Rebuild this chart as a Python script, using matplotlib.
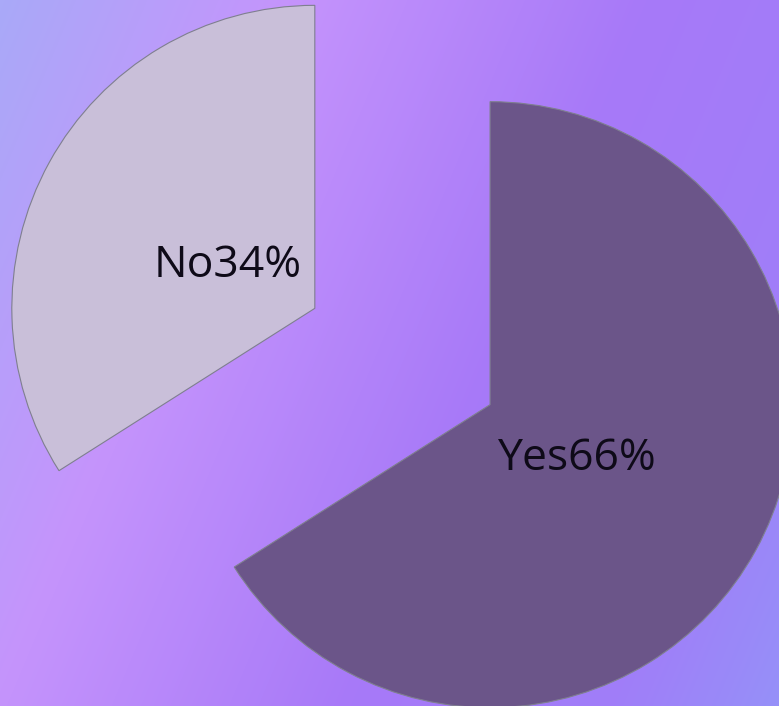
import numpy as np
import matplotlib
matplotlib.use("Agg")
import matplotlib.pyplot as plt
from matplotlib.colors import LinearSegmentedColormap

labels = ["Yes", "No"]
values = [66, 34]
colors = ["#6B5589", "#C9BFD9"]

W, H = 779, 706
fig = plt.figure(figsize=(W / 100, H / 100), dpi=100)

# background gradient (diagonal, office style)
bg = fig.add_axes([0, 0, 1, 1])
bg.set_axis_off()
yy, xx = np.mgrid[0:H, 0:W]
t = (620 * xx + 260 * yy) / (620 * W + 260 * H)
cmap = LinearSegmentedColormap.from_list(
    "bg", [(0.0, "#A9A9F8"), (0.27, "#C594FC"), (0.6, "#A779F8"),
           (0.85, "#A07EF8"), (1.0, "#9690F8")])
bg.imshow(t, cmap=cmap, aspect="auto", extent=[0, W, H, 0])

ax = fig.add_axes([0, 0, 1, 1])
ax.set_axis_off()
ax.patch.set_alpha(0)

wedges, texts, autotexts = ax.pie(
    values, colors=colors, startangle=90, counterclock=False,
    explode=[0.33, 0.33], autopct="%d%%", pctdistance=0.33,
    wedgeprops=dict(edgecolor="#7F7F8F", linewidth=0.8))
for txt, lab, v in zip(autotexts, labels, values):
    txt.set_text(f"{lab}{v}%")
    txt.set_fontsize(32)
    txt.set_family("Open Sans")
    txt.set_color("#0E0A18")
    txt.set_va("center_baseline")

ax.set_aspect("equal")
ax.set_xlim(-1.328, 1.2426)
ax.set_ylim(-1.1535, 1.1766)

fig.savefig("out.png", dpi=100)
